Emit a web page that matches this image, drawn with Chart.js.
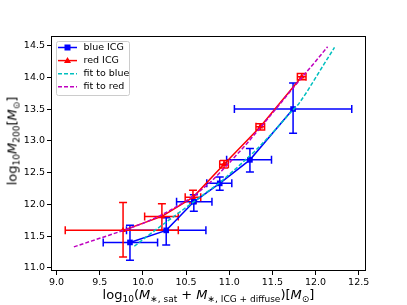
<!DOCTYPE html>
<html>
<head>
<meta charset="utf-8">
<script src="https://cdn.jsdelivr.net/npm/chart.js@4"></script>
<style>
    body { margin: 0; background: #fff; }
    #wrap { position: relative; width: 407px; height: 305px; font-family: "DejaVu Sans", sans-serif; color: #000; }
    #wrap canvas { position: absolute; left: 0; top: 0; }
    .axis-title { position: absolute; font-size: 13px; line-height: 1; white-space: nowrap; }
    .axis-title sub { font-size: 9px; vertical-align: -3px; line-height: 0; }
    .axis-title i { font-style: oblique; }
    #x-title { left: 51px; width: 315px; top: 288px; text-align: center; }
    #y-title { left: 12px; top: 141px; transform: translate(-50%, -50%) rotate(-90deg); }
</style>
</head>
<body>
<div id="wrap">
    <canvas id="halo-chart" width="407" height="305"></canvas>
    <div class="axis-title" id="x-title">log<sub>10</sub>(<i>M</i><sub>∗, sat</sub> + <i>M</i><sub>∗, ICG + diffuse</sub>)[<i>M</i><sub>⊙</sub>]</div>
    <div class="axis-title" id="y-title">log<sub>10</sub><i>M</i><sub>200</sub>[<i>M</i><sub>⊙</sub>]</div>
</div>
<script>
// Tick labels
const xTicks = [9.0, 9.5, 10.0, 10.5, 11.0, 11.5, 12.0, 12.5];
const yTicks = [11.0, 11.5, 12.0, 12.5, 13.0, 13.5, 14.0, 14.5];

// Blue ICG points with error ranges
const blueX = [9.85, 10.27, 10.59, 10.89, 11.24, 11.74];
const blueY = [11.40, 11.59, 12.04, 12.33, 12.70, 13.50];
const blueXLo = [9.54, 9.81, 10.39, 10.74, 10.97, 11.06];
const blueXHi = [10.17, 10.73, 10.80, 11.03, 11.49, 12.42];
const blueYLo = [11.12, 11.36, 11.89, 12.22, 12.51, 13.12];
const blueYHi = [11.67, 11.79, 12.15, 12.43, 12.88, 13.91];

// Red ICG points with error ranges
const redX = [9.77, 10.22, 10.58, 10.94, 11.36, 11.84];
const redY = [11.59, 11.81, 12.11, 12.63, 13.22, 14.01];
const redXLo = [9.10, 10.02, 10.49, 10.89, 11.31, 11.79];
const redXHi = [10.41, 10.41, 10.67, 10.99, 11.41, 11.89];
const redYLo = [11.17, 11.59, 12.02, 12.57, 13.17, 13.96];
const redYHi = [12.03, 12.01, 12.22, 12.69, 13.27, 14.06];

// Fitted relations
const fitBlueX = [9.90, 10.10, 10.30, 10.50, 10.70, 10.90, 11.10, 11.30, 11.50, 11.70, 11.80, 11.90, 12.00, 12.10, 12.22];
const fitBlueY = [11.34, 11.55, 11.75, 11.95, 12.15, 12.35, 12.59, 12.84, 13.12, 13.43, 13.57, 13.77, 13.99, 14.21, 14.47];
const fitRedX = [9.20, 9.40, 9.60, 9.80, 10.00, 10.20, 10.40, 10.60, 10.80, 11.00, 11.20, 11.40, 11.60, 11.80, 12.00, 12.14];
const fitRedY = [11.33, 11.42, 11.51, 11.60, 11.70, 11.82, 11.97, 12.14, 12.37, 12.65, 12.95, 13.27, 13.60, 13.93, 14.25, 14.48];

const BLUE = '#0000ff';
const RED = '#ff0000';
const CYAN = '#00bfbf';
const MAGENTA = '#bf00bf';

function toPoints(xs, ys) {
    return xs.map((x, i) => ({ x: x, y: ys[i] }));
}

// Error bars, drawn below the data lines
const errorBarPlugin = {
    id: 'errorBars',
    beforeDatasetsDraw(chart) {
        const ctx = chart.ctx;
        const xs = chart.scales.x;
        const ys = chart.scales.y;
        const sets = [
            { color: BLUE, x: blueX, y: blueY, xlo: blueXLo, xhi: blueXHi, ylo: blueYLo, yhi: blueYHi },
            { color: RED, x: redX, y: redY, xlo: redXLo, xhi: redXHi, ylo: redYLo, yhi: redYHi }
        ];
        const cap = 4;
        ctx.save();
        ctx.lineWidth = 1.5;
        sets.forEach(s => {
            ctx.strokeStyle = s.color;
            s.x.forEach((xv, i) => {
                const px = xs.getPixelForValue(xv);
                const py = ys.getPixelForValue(s.y[i]);
                const x0 = xs.getPixelForValue(s.xlo[i]);
                const x1 = xs.getPixelForValue(s.xhi[i]);
                const y0 = ys.getPixelForValue(s.ylo[i]);
                const y1 = ys.getPixelForValue(s.yhi[i]);
                ctx.beginPath();
                ctx.moveTo(x0, py); ctx.lineTo(x1, py);
                ctx.moveTo(x0, py - cap); ctx.lineTo(x0, py + cap);
                ctx.moveTo(x1, py - cap); ctx.lineTo(x1, py + cap);
                ctx.moveTo(px, y0); ctx.lineTo(px, y1);
                ctx.moveTo(px - cap, y0); ctx.lineTo(px + cap, y0);
                ctx.moveTo(px - cap, y1); ctx.lineTo(px + cap, y1);
                ctx.stroke();
            });
        });
        ctx.restore();
    }
};

// Axes frame and legend box in the upper left
const framePlugin = {
    id: 'frameAndLegend',
    afterDraw(chart) {
        const ctx = chart.ctx;
        const a = chart.chartArea;
        ctx.save();
        ctx.strokeStyle = '#000';
        ctx.lineWidth = 1;
        ctx.strokeRect(Math.round(a.left) + 0.5, Math.round(a.top) + 0.5,
            Math.round(a.right - a.left) - 1, Math.round(a.bottom - a.top) - 1);

        // legend frame
        const bx = 56, by = 41, bw = 73, bh = 54;
        ctx.fillStyle = 'rgba(255,255,255,0.8)';
        ctx.strokeStyle = '#cccccc';
        ctx.beginPath();
        ctx.roundRect(bx + 0.5, by + 0.5, bw, bh, 2);
        ctx.fill();
        ctx.stroke();

        const entries = [
            { label: 'blue ICG', color: BLUE, dash: [], marker: 'rect' },
            { label: 'red ICG', color: RED, dash: [], marker: 'tri' },
            { label: 'fit to blue', color: CYAN, dash: [4, 2], marker: null },
            { label: 'fit to red', color: MAGENTA, dash: [4, 2], marker: null }
        ];
        ctx.font = '9.5px "DejaVu Sans"';
        ctx.textBaseline = 'middle';
        entries.forEach((e, i) => {
            const cy = 47.5 + i * 13.1;
            ctx.strokeStyle = e.color;
            ctx.lineWidth = 1.5;
            ctx.setLineDash(e.dash);
            ctx.beginPath();
            ctx.moveTo(58, cy); ctx.lineTo(77, cy);
            ctx.stroke();
            ctx.setLineDash([]);
            ctx.fillStyle = e.color;
            if (e.marker === 'rect') {
                ctx.fillRect(64.5, cy - 3, 6, 6);
            } else if (e.marker === 'tri') {
                ctx.beginPath();
                ctx.moveTo(67.5, cy - 3.5);
                ctx.lineTo(71, cy + 2.5);
                ctx.lineTo(64, cy + 2.5);
                ctx.closePath();
                ctx.fill();
            }
            ctx.fillStyle = '#000';
            ctx.fillText(e.label, 83.5, cy);
        });
        ctx.restore();
    }
};

function renderChart() {
    const ctx = document.getElementById('halo-chart');
    const tickFont = { family: 'DejaVu Sans', size: 9.5 };

    new Chart(ctx, {
        type: 'scatter',
        data: {
            datasets: [
                {
                    label: 'fit to red',
                    data: toPoints(fitRedX, fitRedY),
                    showLine: true,
                    borderColor: MAGENTA,
                    borderWidth: 1.5,
                    borderDash: [4, 2],
                    pointRadius: 0,
                    order: 0
                },
                {
                    label: 'fit to blue',
                    data: toPoints(fitBlueX, fitBlueY),
                    showLine: true,
                    borderColor: CYAN,
                    borderWidth: 1.5,
                    borderDash: [4, 2],
                    pointRadius: 0,
                    order: 1
                },
                {
                    label: 'red ICG',
                    data: toPoints(redX, redY),
                    showLine: true,
                    borderColor: RED,
                    backgroundColor: RED,
                    borderWidth: 1.5,
                    pointStyle: 'triangle',
                    pointRadius: 3.5,
                    pointBorderWidth: 0,
                    order: 2
                },
                {
                    label: 'blue ICG',
                    data: toPoints(blueX, blueY),
                    showLine: true,
                    borderColor: BLUE,
                    backgroundColor: BLUE,
                    borderWidth: 1.5,
                    pointStyle: 'rect',
                    pointRadius: 4,
                    pointBorderWidth: 0,
                    order: 3
                }
            ]
        },
        options: {
            responsive: false,
            animation: false,
            layout: { padding: { top: 36, right: 41, left: 0, bottom: 0 } },
            plugins: {
                legend: { display: false },
                tooltip: { enabled: false }
            },
            scales: {
                x: {
                    type: 'linear',
                    min: 8.935,
                    max: 12.585,
                    afterFit: scale => { scale.height = 34; },
                    afterBuildTicks: scale => { scale.ticks = xTicks.map(v => ({ value: v })); },
                    ticks: {
                        font: tickFont,
                        color: '#000',
                        padding: 2,
                        maxRotation: 0,
                        callback: v => v.toFixed(1)
                    },
                    grid: { drawOnChartArea: false, drawTicks: true, tickLength: 4, color: '#000' },
                    border: { display: false }
                },
                y: {
                    type: 'linear',
                    min: 10.95,
                    max: 14.65,
                    afterFit: scale => { scale.width = 51; },
                    afterBuildTicks: scale => { scale.ticks = yTicks.map(v => ({ value: v })); },
                    ticks: {
                        font: tickFont,
                        color: '#000',
                        padding: 2,
                        callback: v => v.toFixed(1)
                    },
                    grid: { drawOnChartArea: false, drawTicks: true, tickLength: 4, color: '#000' },
                    border: { display: false }
                }
            }
        },
        plugins: [errorBarPlugin, framePlugin]
    });
}

renderChart();
</script>
</body>
</html>
